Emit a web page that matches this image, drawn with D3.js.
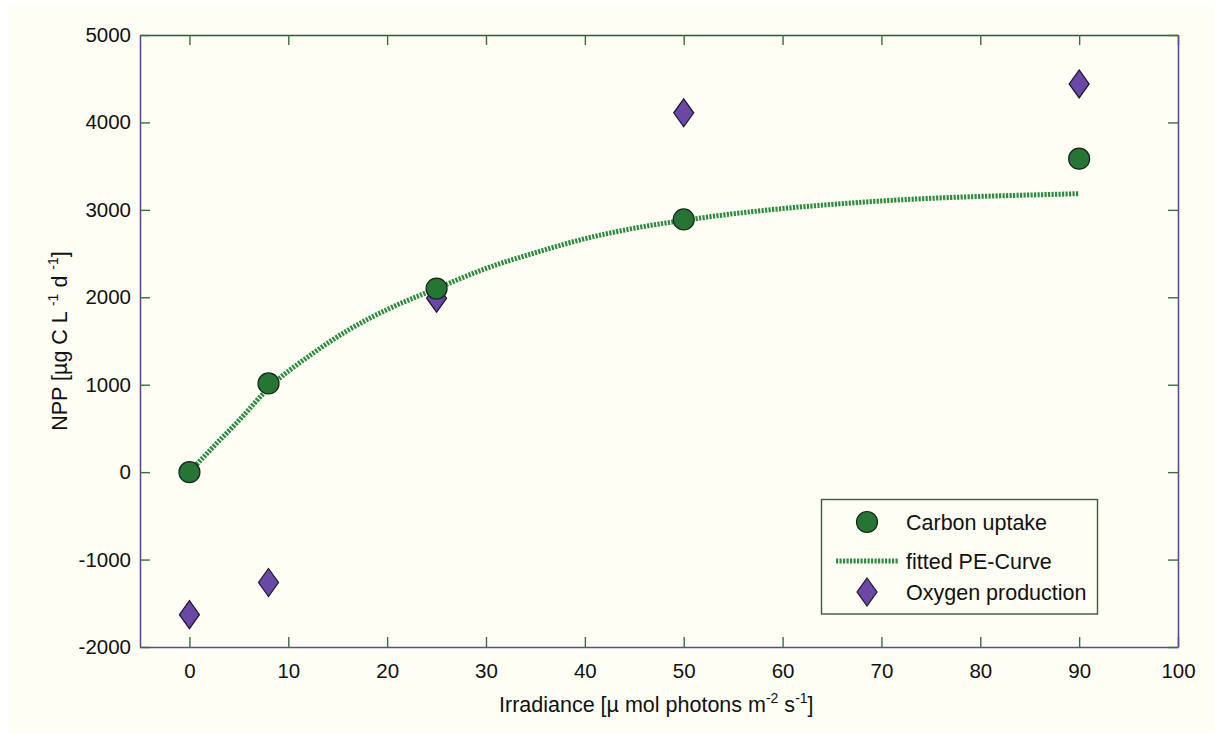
<!DOCTYPE html>
<html>
<head>
<meta charset="utf-8">
<script src="https://cdn.jsdelivr.net/npm/d3@7"></script>
<style>
  html, body { margin: 0; padding: 0; background: #fff; }
  svg { display: block; font-family: "Liberation Sans", Arial, sans-serif; }
</style>
</head>
<body>
<div id="chart"></div>
<script>
// irradiance levels of the incubations
const irradiance = [0, 8, 25, 50, 90];
// carbon uptake (NPP) per level
const carbonUptake = [0, 1015, 2100, 2890, 3585];
// oxygen production converted to carbon units
const oxygenProduction = [-1630, -1262, 1990, 4110, 4440];

// fitted PE curve
const curveIrradiance = [0, 2.5, 5, 8, 12.5, 16, 20, 25, 30, 35, 40, 45, 50, 55, 60, 65, 70, 75, 80, 85, 90];
const curveNpp = [0, 300, 590, 960, 1360, 1620, 1860, 2100, 2330, 2510, 2670, 2790, 2880, 2955, 3015, 3062, 3102, 3132, 3154, 3170, 3185];

const xTicks = [0, 10, 20, 30, 40, 50, 60, 70, 80, 90, 100];
const yTicks = [-2000, -1000, 0, 1000, 2000, 3000, 4000, 5000];
const legendLabels = ['Carbon uptake', 'fitted PE-Curve', 'Oxygen production'];

const width = 1215, height = 733;
const plot = { left: 140, right: 1178, top: 35, bottom: 647 };

const colors = {
  bg: '#fffef4',
  carbon: '#267535',
  curve: '#2e8c40',
  oxygen: '#6a48a6',
  frameV: '#5c4b99',
  frameTop: '#2f5a35',
  tick: '#3d6e3f',
  text: '#111'
};

const svg = d3.select('#chart')
  .append('svg')
  .attr('width', width)
  .attr('height', height);

svg.append('rect')
  .attr('x', 9).attr('y', 6)
  .attr('width', width - 9).attr('height', height - 6)
  .attr('fill', colors.bg);

const x = d3.scaleLinear().domain([-5, 100]).range([plot.left, plot.right]);
const y = d3.scaleLinear().domain([-2000, 5000]).range([plot.bottom, plot.top]);

// axes, ticks pointing inward
const styleAxis = (g, lineColor) => {
  g.select('.domain').attr('stroke', lineColor).attr('stroke-width', 1.6);
  g.selectAll('.tick line').attr('stroke', colors.tick).attr('stroke-width', 1.4);
  g.selectAll('.tick text')
    .attr('fill', colors.text)
    .style('font-size', '20.5px');
};

const plainNumber = d => String(d); // hyphen minus, like the original

svg.append('g')
  .attr('transform', `translate(0,${plot.bottom})`)
  .call(d3.axisBottom(x).tickValues(xTicks).tickSizeInner(-10).tickSizeOuter(0).tickPadding(16).tickFormat(plainNumber))
  .call(g => styleAxis(g, colors.frameV));

svg.append('g')
  .attr('transform', `translate(0,${plot.top})`)
  .call(d3.axisTop(x).tickValues(xTicks).tickSizeInner(-10).tickSizeOuter(0).tickFormat(''))
  .call(g => styleAxis(g, colors.frameTop));

svg.append('g')
  .attr('transform', `translate(${plot.left},0)`)
  .call(d3.axisLeft(y).tickValues(yTicks).tickSizeInner(-10).tickSizeOuter(0).tickPadding(9).tickFormat(plainNumber))
  .call(g => styleAxis(g, colors.frameV));

svg.append('g')
  .attr('transform', `translate(${plot.right},0)`)
  .call(d3.axisRight(y).tickValues(yTicks).tickSizeInner(-10).tickSizeOuter(0).tickFormat(''))
  .call(g => styleAxis(g, colors.frameV));

svg.selectAll('.domain').attr('fill', 'none');

// fitted curve
const line = d3.line()
  .x((d, i) => x(curveIrradiance[i]))
  .y(d => y(d))
  .curve(d3.curveMonotoneX);

const drawCurve = (sel) => sel
  .attr('fill', 'none')
  .attr('stroke', colors.curve)
  .attr('stroke-width', 5)
  .attr('stroke-dasharray', '2.2,1.3');

svg.append('path')
  .datum(curveNpp)
  .attr('d', line)
  .call(drawCurve);

// diamond marker
const diamond = (cx, cy, hw, hh) =>
  `M${cx},${cy - hh}L${cx + hw},${cy}L${cx},${cy + hh}L${cx - hw},${cy}Z`;

svg.append('g')
  .selectAll('path')
  .data(oxygenProduction)
  .join('path')
  .attr('d', (d, i) => diamond(x(irradiance[i]), y(d), 10, 14))
  .attr('fill', colors.oxygen)
  .attr('stroke', '#1d1530')
  .attr('stroke-width', 1.2);

svg.append('g')
  .selectAll('circle')
  .data(carbonUptake)
  .join('circle')
  .attr('cx', (d, i) => x(irradiance[i]))
  .attr('cy', d => y(d))
  .attr('r', 10.5)
  .attr('fill', colors.carbon)
  .attr('stroke', '#15251a')
  .attr('stroke-width', 1.2);

// axis titles
const xTitle = svg.append('text')
  .attr('x', 499).attr('y', 712)
  .attr('fill', colors.text)
  .style('font-size', '21.5px');
xTitle.append('tspan').text('Irradiance [\u00b5 mol photons m');
xTitle.append('tspan').attr('dy', -9).style('font-size', '14px').text('-2');
xTitle.append('tspan').attr('dy', 9).text(' s');
xTitle.append('tspan').attr('dy', -9).style('font-size', '14px').text('-1');
xTitle.append('tspan').attr('dy', 9).text(']');

const yTitle = svg.append('text')
  .attr('transform', `translate(67,${(plot.top + plot.bottom) / 2}) rotate(-90)`)
  .attr('text-anchor', 'middle')
  .attr('fill', colors.text)
  .style('font-size', '21.5px');
yTitle.append('tspan').text('NPP [\u00b5g C L ');
yTitle.append('tspan').attr('dy', -9).style('font-size', '14px').text('-1');
yTitle.append('tspan').attr('dy', 9).text(' d ');
yTitle.append('tspan').attr('dy', -9).style('font-size', '14px').text('-1');
yTitle.append('tspan').attr('dy', 9).text(']');

// legend
const legend = svg.append('g');
legend.append('rect')
  .attr('x', 821.5).attr('y', 499.5)
  .attr('width', 276).attr('height', 114.5)
  .attr('fill', colors.bg)
  .attr('stroke', '#3c5a40')
  .attr('stroke-width', 1.4);

const rowY = [522, 561, 592];
legend.append('circle')
  .attr('cx', 867).attr('cy', rowY[0]).attr('r', 10.5)
  .attr('fill', colors.carbon).attr('stroke', '#15251a').attr('stroke-width', 1.2);
legend.append('line')
  .attr('x1', 836).attr('x2', 899).attr('y1', rowY[1]).attr('y2', rowY[1])
  .call(drawCurve);
legend.append('path')
  .attr('d', diamond(867, rowY[2], 10, 14))
  .attr('fill', colors.oxygen).attr('stroke', '#1d1530').attr('stroke-width', 1.2);

legend.selectAll('text')
  .data(legendLabels)
  .join('text')
  .attr('x', 906)
  .attr('y', (d, i) => rowY[i] + 8)
  .attr('fill', colors.text)
  .style('font-size', '21.5px')
  .text(d => d);
</script>
</body>
</html>
